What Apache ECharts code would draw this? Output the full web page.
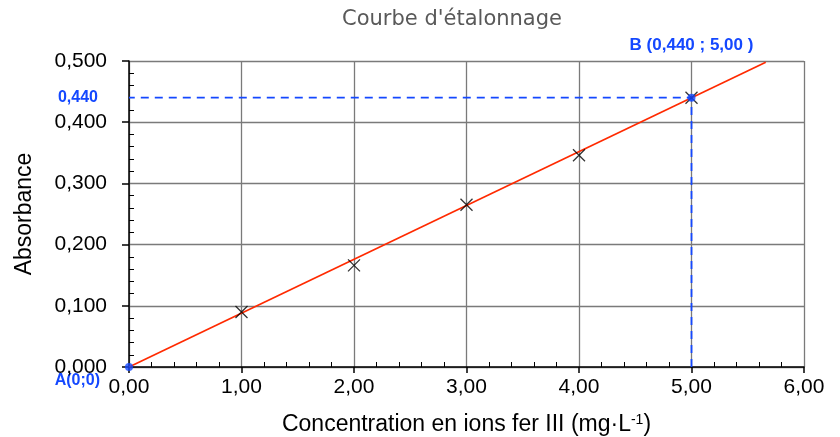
<!DOCTYPE html>
<html><head><meta charset="utf-8">
<script src="https://cdn.jsdelivr.net/npm/echarts@6/dist/echarts.min.js"></script>
<style>html,body{margin:0;padding:0;background:#fff}#c{width:840px;height:437px}</style>
</head><body><div id="c"></div>
<script>
var concentrations = [1, 2, 3, 4, 5];
var absorbances = [0.090, 0.166, 0.265, 0.346, 0.440];
var trendX = [0, 5.66];
var trendY = [0, 0.498];
var pointA = [0, 0];
var pointB = [5, 0.440];
var xTicks = [0, 1, 2, 3, 4, 5, 6];
var yTicks = [0, 0.1, 0.2, 0.3, 0.4, 0.5];

var FONT = '"Liberation Sans", Arial, sans-serif';
var BLUE = '#1448ff';
var chart = echarts.init(document.getElementById('c'));
var scatterData = concentrations.map(function(c, i){ return [c, absorbances[i]]; });
var trendData = trendX.map(function(x, i){ return [x, trendY[i]]; });
var fmtX = function(v){ return v.toFixed(2).replace('.', ','); };
var fmtY = function(v){ return v.toFixed(3).replace('.', ','); };

var baseX = { type: 'value', min: xTicks[0], max: xTicks[xTicks.length-1], interval: 1 };
var baseY = { type: 'value', min: yTicks[0], max: yTicks[yTicks.length-1], interval: 0.1 };

chart.setOption({
  animation: false,
  backgroundColor: '#fff',
  grid: { left: 129, right: 36, top: 61, bottom: 70, containLabel: false, outerBoundsMode: 'none' },
  xAxis: [
    Object.assign({}, baseX, {
      name: '{a|Concentration en ions fer III (mg·L}{s|-1}{a|)}',
      nameLocation: 'middle', nameGap: 46,
      nameTextStyle: {
        rich: {
          a: { fontFamily: FONT, fontSize: 23, color: '#000' },
          s: { fontFamily: FONT, fontSize: 14, color: '#000', verticalAlign: 'top', padding: [0,0,10,0] }
        }
      },
      axisLine: { show: true, onZero: false, lineStyle: { color: '#000', width: 1.5 } },
      axisTick: { show: true, inside: false, length: 6, lineStyle: { color: '#000', width: 1.5 } },
      axisLabel: { fontFamily: FONT, fontSize: 21, color: '#000', margin: 10, formatter: fmtX },
      splitLine: { show: true, lineStyle: { color: '#7a7a7a', width: 1.3 } }
    }),
    Object.assign({}, baseX, {
      position: 'bottom',
      axisLine: { show: false },
      axisTick: { show: false, inside: true },
      minorTick: { show: true, splitNumber: 5, length: 5, lineStyle: { color: '#000', width: 1 } },
      axisLabel: { show: false },
      splitLine: { show: false }
    })
  ],
  yAxis: [
    Object.assign({}, baseY, {
      name: 'Absorbance', nameLocation: 'middle', nameGap: 93, nameRotate: 90,
      nameTextStyle: { fontFamily: FONT, fontSize: 23, color: '#000' },
      axisLine: { show: true, onZero: false, lineStyle: { color: '#000', width: 1.5 } },
      axisTick: { show: true, length: 7, lineStyle: { color: '#000', width: 1.5 } },
      axisLabel: { fontFamily: FONT, fontSize: 21, color: '#000', margin: 22, formatter: fmtY },
      splitLine: { show: true, lineStyle: { color: '#7a7a7a', width: 1.3 } }
    }),
    Object.assign({}, baseY, {
      position: 'left',
      axisLine: { show: false },
      axisTick: { show: false, inside: true },
      minorTick: { show: true, splitNumber: 5, length: 5, lineStyle: { color: '#000', width: 1 } },
      axisLabel: { show: false },
      splitLine: { show: false }
    })
  ],
  series: [
    {
      type: 'line', data: trendData, showSymbol: false, symbol: 'none',
      lineStyle: { color: '#ff2a00', width: 1.7 }, z: 3
    },
    {
      type: 'line', data: [[pointB[0], 0], pointB, [0, pointB[1]]],
      showSymbol: false, symbol: 'none',
      lineStyle: { color: BLUE, width: 1.8, type: [8, 6] }, z: 4
    },
    {
      type: 'scatter', data: scatterData,
      symbol: 'path://M0,0L10,10M10,0L0,10', symbolSize: 12,
      itemStyle: { color: 'none', borderColor: '#000', borderWidth: 1.3 }, z: 5
    },
    {
      type: 'scatter', data: [pointA, pointB], symbol: 'circle', symbolSize: 8,
      itemStyle: { color: BLUE }, z: 6
    }
  ]
});

function place(){
  var b = chart.convertToPixel({xAxisIndex:0, yAxisIndex:0}, pointB);
  var a = chart.convertToPixel({xAxisIndex:0, yAxisIndex:0}, pointA);
  chart.setOption({ graphic: [
    { type: 'text', x: 452, y: 20, style: { text: "Courbe d'étalonnage", fill: '#595959',
      font: '21px "DejaVu Sans", sans-serif', textAlign: 'center', textVerticalAlign: 'middle' } },
    { type: 'text', x: 98, y: b[1], style: { text: fmtY(pointB[1]), fill: BLUE,
      font: 'bold 16px ' + FONT, textAlign: 'right', textVerticalAlign: 'middle' } },
    { type: 'text', x: a[0] - 29, y: a[1] + 14, style: { text: 'A(0;0)', fill: BLUE,
      font: 'bold 16px ' + FONT, textAlign: 'right', textVerticalAlign: 'middle' } },
    { type: 'text', x: b[0], y: 45, style: { text: 'B (' + fmtY(pointB[1]) + ' ; ' + fmtX(pointB[0]) + ' )', fill: BLUE,
      font: 'bold 17px ' + FONT, textAlign: 'center', textVerticalAlign: 'middle' } }
  ]});
}
place();
</script></body></html>
